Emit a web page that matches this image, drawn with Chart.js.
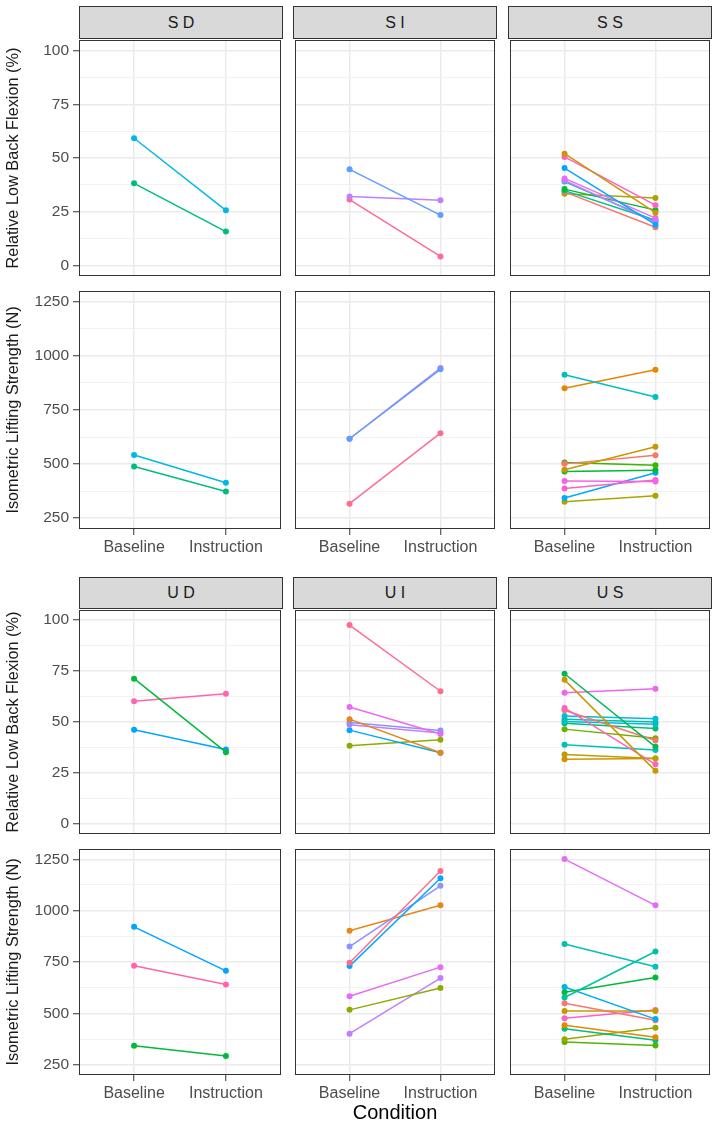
<!DOCTYPE html>
<html>
<head>
<meta charset="utf-8">
<script src="https://cdn.jsdelivr.net/npm/chart.js@4.4.1/dist/chart.umd.min.js"></script>
<style>
  html, body { margin: 0; padding: 0; background: #fff; }
  #wrap { position: relative; width: 715px; height: 1126px; overflow: hidden;
          font-family: "Liberation Sans", Arial, sans-serif; }
  #wrap canvas { position: absolute; }
  .strip { position: absolute; box-sizing: border-box; background: #D9D9D9;
           border: 1px solid #333; color: #1A1A1A; font-size: 16px; text-align: center; }
</style>
</head>
<body>
<div id="wrap"></div>
<script>
// ---- Dados ----
const conditions = ['Baseline', 'Instruction'];
const flexionTicks = [0, 25, 50, 75, 100];
const strengthTicks = [250, 500, 750, 1000, 1250];

// S D
const sdColors = ['#00B8E5', '#00BD7F'];
const sdFlexBase = [59.2, 38.2];
const sdFlexInstr = [25.6, 15.7];
const sdStrBase = [542, 489];
const sdStrInstr = [414, 373];

// S I
const siColors = ['#619CFF', '#BE80FF', '#FF6C91'];
const siFlexBase = [44.7, 32.1, 30.6];
const siFlexInstr = [23.4, 30.3, 4.1];
const siStrBase = [617, 617, 317];
const siStrInstr = [938, 944, 643];

// S S
const ssFlexColors = ['#CD9600', '#FF61C3', '#00A9FF', '#E76BF3', '#C77CFF', '#00BFC4', '#00BA38', '#00C08B', '#F8766D', '#ABA300'];
const ssFlexBase = [52.0, 50.5, 45.3, 40.5, 39.5, 39.0, 35.5, 34.8, 34.2, 33.3];
const ssFlexInstr = [24.5, 28.0, 18.9, 22.0, 20.0, 20.5, 25.7, 21.0, 17.7, 31.4];
const ssStrColors = ['#00BFC4', '#E58700', '#C99800', '#F8766D', '#39B600', '#00BA38', '#F564E3', '#FF61C3', '#00A9FF', '#ABA300'];
const ssStrBase = [913, 851, 474, 501, 507, 466, 422, 387, 343, 326];
const ssStrInstr = [810, 936, 580, 541, 495, 472, 420, 427, 460, 354];

// U D
const udColors = ['#00BA38', '#FF65AC', '#00A5FF'];
const udFlexBase = [71.3, 60.2, 46.2];
const udFlexInstr = [35.2, 63.9, 36.5];
const udStrColors = ['#00A5FF', '#FF65AC', '#00BA38'];
const udStrBase = [921, 732, 342];
const udStrInstr = [707, 640, 293];

// U I
const uiColors = ['#FF6C91', '#E76BF3', '#E7861B', '#8F91FF', '#C17FFF', '#00A9FF', '#8FAA00'];
const uiFlexBase = [97.6, 57.4, 51.4, 49.8, 48.6, 46.0, 38.3];
const uiFlexInstr = [65.1, 44.1, 34.9, 45.8, 44.6, 34.9, 41.3];
const uiStrColors = ['#FF6C91', '#00A9FF', '#8F91FF', '#E7861B', '#E76BF3', '#8FAA00', '#C17FFF'];
const uiStrBase = [746, 730, 825, 902, 583, 517, 401];
const uiStrInstr = [1193, 1158, 1121, 1026, 725, 623, 672];

// U S
const usFlexColors = ['#00B950', '#C79800', '#F066EA', '#FF62BC', '#F8766D', '#00BCD8', '#00C1A8', '#00B8E7', '#00BE6C', '#6BB100', '#00C0B8', '#B8A000', '#D89000'];
const usFlexBase = [73.7, 70.7, 64.4, 56.9, 55.8, 53.0, 51.4, 50.2, 49.4, 46.5, 38.8, 34.0, 31.7];
const usFlexInstr = [37.8, 26.0, 66.3, 29.2, 40.9, 51.6, 50.0, 48.9, 46.8, 42.0, 36.2, 32.1, 32.1];
const usStrColors = ['#E36EF6', '#00C0B8', '#00C1A0', '#00BA38', '#00B0F6', '#F8766D', '#C49A00', '#FF61C3', '#E38900', '#00BF7D', '#99A800', '#53B400'];
const usStrBase = [1251, 838, 577, 603, 628, 549, 512, 476, 442, 425, 374, 361];
const usStrInstr = [1026, 727, 801, 675, 472, 467, 512, 516, 384, 369, 430, 343];

// ---- Layout (px) ----
const FONT = '"Liberation Sans", Arial, sans-serif';
const COL_LEFT = [79, 293, 508];
const PLOT_W = 204;
const BLOCKS = [
  { strip: 'S', stripTop: 6, stripH: 32, rows: [[38, 240], [289, 240]], axisH: 40 },
  { strip: 'U', stripTop: 577, stripH: 31, rows: [[608, 228], [847, 228]], axisH: 51 },
];
const GROUPS = ['D', 'I', 'S'];

const panelData = {
  SD: [[sdColors, sdFlexBase, sdFlexInstr], [sdColors, sdStrBase, sdStrInstr]],
  SI: [[siColors, siFlexBase, siFlexInstr], [siColors, siStrBase, siStrInstr]],
  SS: [[ssFlexColors, ssFlexBase, ssFlexInstr], [ssStrColors, ssStrBase, ssStrInstr]],
  UD: [[udColors, udFlexBase, udFlexInstr], [udStrColors, udStrBase, udStrInstr]],
  UI: [[uiColors, uiFlexBase, uiFlexInstr], [uiStrColors, uiStrBase, uiStrInstr]],
  US: [[usFlexColors, usFlexBase, usFlexInstr], [usStrColors, usStrBase, usStrInstr]],
};

const METRICS = [
  { title: 'Relative Low Back Flexion (%)', ticks: flexionTicks, min: -5, max: 105 },
  { title: 'Isometric Lifting Strength (N)', ticks: strengthTicks, min: 200, max: 1300 },
];

// borda do painel (theme_bw)
const panelBorder = {
  id: 'panelBorder',
  afterDraw(chart) {
    const { ctx, chartArea: a } = chart;
    ctx.save();
    ctx.strokeStyle = '#333333';
    ctx.lineWidth = 1;
    ctx.strokeRect(Math.round(a.left) + 0.5, Math.round(a.top) + 0.5,
                   Math.round(a.right - a.left) - 1, Math.round(a.bottom - a.top) - 1);
    ctx.restore();
  }
};

// majors + minors (pontos médios entre majors)
function withMinors(majors) {
  const out = [];
  majors.forEach((v, i) => {
    out.push(v);
    if (i < majors.length - 1) out.push((v + majors[i + 1]) / 2);
  });
  return out;
}

function makePanel(wrap, key, col, rowIdx, block) {
  const [colors, base, instr] = panelData[key][rowIdx];
  const metric = METRICS[rowIdx];
  const [plotTop, plotH] = block.rows[rowIdx];
  const isBottom = rowIdx === 1;
  const isFirstCol = col === 0;
  const showXTitle = block.strip === 'U' && isBottom && col === 1;

  const left = isFirstCol ? 0 : COL_LEFT[col] - 2;
  const width = isFirstCol ? COL_LEFT[0] + PLOT_W + 2 : PLOT_W + 4;
  const axisH = isBottom ? block.axisH : 0;
  const height = 2 + plotH + (isBottom ? axisH : 2);

  const canvas = document.createElement('canvas');
  canvas.width = width;
  canvas.height = height;
  canvas.style.left = left + 'px';
  canvas.style.top = (plotTop - 2) + 'px';
  wrap.appendChild(canvas);

  const majors = metric.ticks;
  const datasets = colors.map((c, i) => ({
    data: [{ x: 1, y: base[i] }, { x: 2, y: instr[i] }],
    borderColor: c,
    backgroundColor: c,
    pointBackgroundColor: c,
    borderWidth: 1.5,
    pointRadius: 3,
    pointBorderWidth: 0,
    tension: 0,
  }));

  new Chart(canvas.getContext('2d'), {
    type: 'line',
    data: { datasets },
    plugins: [panelBorder],
    options: {
      responsive: false,
      animation: false,
      clip: false,
      layout: { padding: { left: isFirstCol ? 0 : 2, right: 2, top: 2, bottom: isBottom ? 0 : 2 } },
      plugins: { legend: { display: false }, tooltip: { enabled: false } },
      scales: {
        x: {
          type: 'linear',
          min: 0.4,
          max: 2.6,
          afterBuildTicks: (s) => { s.ticks = conditions.map((_, i) => ({ value: i + 1 })); },
          // tamanho fixo: sem folga extra para os rótulos
          afterFit: (s) => { s.height = axisH; s.paddingLeft = 0; s.paddingRight = 0; },
          border: { display: false },
          grid: {
            color: '#EBEBEB', lineWidth: 1.5,
            drawTicks: isBottom, tickLength: 6, tickColor: '#333333', tickWidth: 1,
          },
          ticks: {
            display: isBottom,
            autoSkip: false, maxRotation: 0, padding: 3,
            color: '#4D4D4D',
            font: { family: FONT, size: 16 },
            callback: (v) => conditions[Math.round(v) - 1] ?? '',
          },
          title: {
            display: showXTitle,
            text: 'Condition',
            color: '#000',
            font: { family: FONT, size: 20 },
            padding: { top: 0, bottom: 1 },
          },
        },
        y: {
          type: 'linear',
          min: metric.min,
          max: metric.max,
          afterBuildTicks: (s) => { s.ticks = withMinors(majors).map(v => ({ value: v })); },
          afterFit: (s) => {
            s.width = isFirstCol ? COL_LEFT[0] : 0;
            s.paddingTop = 0; s.paddingBottom = 0;
          },
          border: { display: false },
          grid: {
            color: (ctx) => majors.includes(ctx.tick?.value) ? '#EBEBEB' : '#F2F2F2',
            lineWidth: (ctx) => majors.includes(ctx.tick?.value) ? 1.5 : 1,
            drawTicks: isFirstCol, tickLength: 6, tickWidth: 1,
            tickColor: (ctx) => majors.includes(ctx.tick?.value) ? '#333333' : 'rgba(0,0,0,0)',
          },
          ticks: {
            display: isFirstCol,
            padding: 4,
            color: '#4D4D4D',
            font: { family: FONT, size: 15.5 },
            callback: (v) => majors.includes(v) ? String(v) : '',
          },
          title: {
            display: isFirstCol,
            text: metric.title,
            color: '#1A1A1A',
            font: { family: FONT, size: 16.3 },
            padding: { top: 4, bottom: 0 },
          },
        },
      },
    },
  });
}

const wrap = document.getElementById('wrap');
BLOCKS.forEach(block => {
  GROUPS.forEach((g, col) => {
    const strip = document.createElement('div');
    strip.className = 'strip';
    strip.style.left = COL_LEFT[col] + 'px';
    strip.style.top = block.stripTop + 'px';
    strip.style.width = PLOT_W + 'px';
    strip.style.height = (block.stripH + 1) + 'px';
    strip.style.lineHeight = (block.stripH - 1) + 'px';
    strip.textContent = block.strip + ' ' + g;
    wrap.appendChild(strip);

    const key = block.strip + g;
    makePanel(wrap, key, col, 0, block);
    makePanel(wrap, key, col, 1, block);
  });
});
</script>
</body>
</html>
